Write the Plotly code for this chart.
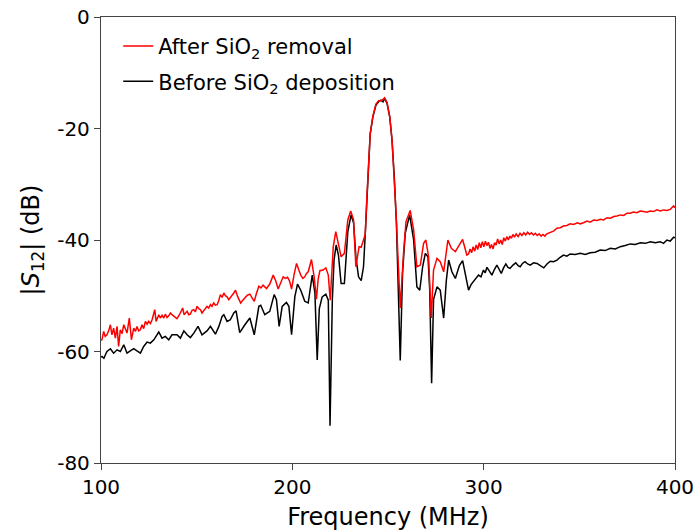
import plotly.graph_objects as go

# ---- data ----
freq_before = [100.0, 100.5, 101.5, 103.1, 104.9, 106.6, 108.4, 110.1, 111.9, 113.6, 115.3, 117.1, 118.8, 120.6,
               122.3, 124.1, 125.8, 127.6, 130.2, 131.9, 133.6, 135.4, 137.1, 139.7, 141.5, 143.3, 145.0, 146.7,
               148.5, 150.7, 152.8, 155.4, 157.2, 159.8, 161.6, 163.3, 164.2, 165.9, 167.6, 169.4, 170.6, 172.0,
               172.5, 175.2, 177.8, 180.1, 182.5, 183.5, 185.6, 188.2, 190.5, 191.7, 193.1, 194.7, 196.9, 198.2,
               199.6, 201.3, 202.7, 204.4, 206.5, 208.3, 210.4, 211.8, 213.0, 214.1, 215.6, 217.5, 218.8, 219.7,
               220.9, 221.8, 222.9, 224.1, 225.5, 227.2, 229.0, 230.7, 232.0, 233.2, 234.6, 236.0, 237.2, 238.1,
               239.0, 239.9, 240.7, 242.1, 243.7, 245.1, 246.3, 247.4, 248.2, 249.5, 250.9, 252.1, 253.3, 254.4,
               255.2, 256.4, 257.6, 259.0, 261.3, 263.4, 265.1, 266.6, 268.1, 269.5, 270.9, 271.8, 272.8, 273.8,
               275.6, 277.3, 279.1, 280.5, 281.7, 283.4, 285.2, 287.3, 289.0, 290.7, 292.1, 293.4, 294.7, 296.0,
               297.3, 298.6, 299.9, 300.8, 301.7, 303.0, 304.3, 305.6, 306.9, 308.0, 309.2, 310.4, 311.6, 312.7,
               313.8, 315.3, 316.8, 318.0, 319.1, 320.3, 321.6, 323.0, 324.3, 326.1, 327.9, 329.6, 331.4, 333.1,
               334.8, 336.5, 338.3, 340.0, 341.7, 343.5, 345.2, 347.8, 350.5, 353.1, 355.7, 358.3, 360.9, 363.5,
               366.2, 368.8, 371.4, 374.0, 376.6, 379.2, 381.9, 384.5, 387.1, 389.7, 392.3, 394.0, 395.8, 397.5,
               399.3, 400.0]
db_before = [-61.0, -60.9, -61.2, -60.0, -59.5, -60.3, -59.7, -60.0, -58.8, -60.3, -59.9, -59.5, -59.9, -60.3,
             -59.1, -58.3, -58.5, -57.9, -56.5, -57.6, -57.3, -57.9, -57.0, -57.0, -57.6, -56.3, -57.0, -57.5,
             -56.7, -55.5, -57.0, -56.3, -55.5, -56.9, -55.5, -53.7, -53.4, -54.6, -54.3, -53.1, -52.7, -56.0,
             -56.6, -55.2, -54.0, -57.0, -51.9, -51.7, -53.4, -52.8, -49.8, -50.7, -55.5, -51.9, -51.2, -51.9,
             -57.0, -50.2, -47.9, -49.0, -51.0, -51.3, -46.3, -49.5, -61.5, -52.3, -50.2, -49.7, -50.8, -73.3,
             -50.8, -43.6, -40.9, -42.7, -47.8, -47.8, -38.5, -35.5, -36.9, -43.0, -46.6, -47.3, -44.8, -39.0,
             -32.0, -25.0, -20.9, -17.9, -15.8, -15.2, -14.9, -15.2, -14.6, -15.5, -17.9, -22.1, -28.7, -37.0,
             -46.0, -61.6, -46.0, -38.8, -35.5, -40.0, -48.4, -49.0, -44.8, -42.4, -43.0, -49.0, -65.7, -50.7,
             -48.4, -49.0, -54.0, -47.2, -43.6, -45.7, -46.9, -44.6, -43.7, -46.6, -49.0, -48.0, -47.5, -47.0,
             -46.3, -46.6, -45.4, -45.9, -44.9, -45.6, -46.3, -45.3, -44.5, -45.2, -46.0, -45.0, -44.3, -44.9,
             -45.1, -44.5, -44.1, -44.6, -44.8, -44.2, -43.9, -44.3, -44.5, -44.1, -44.2, -44.6, -45.0, -44.3,
             -43.8, -43.9, -43.6, -43.1, -42.7, -42.9, -42.5, -42.6, -42.4, -42.6, -42.3, -42.2, -41.8, -41.9,
             -41.5, -41.6, -41.2, -41.0, -40.7, -40.8, -40.5, -40.6, -40.3, -40.5, -40.3, -40.6, -40.0, -40.2,
             -39.5, -39.6]

freq_after = [100.0, 100.5, 101.4, 102.2, 103.1, 104.0, 104.9, 105.7, 106.6, 107.5, 108.4, 109.2, 110.1, 111.0,
              111.9, 112.7, 113.6, 114.8, 115.9, 117.1, 118.0, 118.8, 119.7, 120.6, 121.4, 122.3, 123.2, 124.1,
              124.9, 125.8, 126.7, 128.1, 128.8, 130.2, 131.0, 131.9, 132.8, 133.6, 134.5, 135.4, 136.3, 137.1,
              138.4, 139.7, 141.0, 142.7, 143.4, 145.0, 145.9, 146.7, 147.6, 148.5, 149.3, 150.2, 151.1, 152.0,
              152.8, 154.1, 155.4, 156.3, 157.2, 158.0, 158.9, 159.8, 160.7, 161.5, 162.4, 163.3, 164.2, 165.0,
              165.9, 166.8, 167.6, 168.5, 169.4, 170.3, 171.5, 173.0, 174.1, 175.2, 176.5, 177.8, 179.0, 180.1,
              181.3, 182.5, 183.6, 184.7, 186.5, 188.2, 190.0, 191.3, 192.6, 193.9, 195.2, 196.4, 197.5, 198.6,
              199.6, 200.9, 202.2, 203.3, 204.4, 205.5, 206.5, 207.4, 208.3, 210.0, 211.4, 212.6, 213.5, 214.4,
              216.0, 217.5, 218.8, 219.8, 221.4, 222.7, 224.1, 225.5, 227.2, 229.0, 230.5, 232.0, 233.2, 234.9,
              236.0, 237.2, 238.1, 239.0, 239.9, 240.7, 242.1, 243.7, 245.1, 246.3, 247.4, 248.2, 249.5, 250.9,
              252.1, 253.3, 254.4, 255.2, 256.4, 258.1, 259.4, 261.6, 263.4, 265.1, 266.9, 268.6, 269.8, 271.2,
              272.6, 273.8, 275.6, 277.3, 279.1, 281.3, 283.1, 285.2, 287.0, 289.0, 291.2, 292.1, 292.9, 293.7,
              294.5, 295.3, 296.1, 296.9, 297.7, 298.5, 299.3, 300.1, 300.9, 301.7, 302.5, 303.3, 304.1, 304.9,
              305.7, 306.5, 307.3, 308.1, 308.9, 309.7, 310.5, 311.3, 312.1, 312.9, 313.7, 314.5, 315.3, 316.1,
              317.0, 318.0, 319.0, 320.0, 321.0, 322.0, 323.0, 324.0, 325.0, 326.0, 327.0, 328.0, 329.0, 330.0,
              331.0, 332.0, 333.0, 334.8, 336.5, 338.3, 340.0, 341.7, 343.5, 345.2, 347.0, 349.0, 350.5, 352.2,
              354.0, 355.7, 357.5, 359.2, 361.0, 362.7, 364.5, 366.2, 368.0, 369.7, 371.4, 373.2, 374.9, 376.6,
              378.3, 380.1, 381.8, 383.6, 385.3, 387.0, 388.8, 390.5, 392.3, 394.1, 395.8, 397.5, 399.3, 400.0]
db_after = [-58.0, -57.9, -56.4, -57.3, -57.0, -56.3, -55.2, -57.0, -55.8, -57.6, -55.5, -59.1, -56.1, -56.8,
            -55.2, -56.1, -56.7, -54.0, -57.9, -55.8, -56.4, -55.5, -56.3, -56.1, -55.2, -55.9, -54.6, -55.1,
            -54.6, -55.0, -54.3, -52.5, -54.6, -53.4, -54.0, -53.5, -54.0, -53.3, -53.9, -53.6, -53.1, -53.4,
            -53.8, -54.1, -53.4, -52.2, -53.4, -52.8, -53.4, -53.3, -52.6, -52.5, -52.9, -51.9, -52.3, -52.5,
            -53.1, -52.4, -51.9, -52.2, -51.6, -51.9, -51.3, -51.7, -51.6, -50.9, -49.8, -50.3, -49.5, -50.0,
            -50.2, -50.7, -50.4, -49.9, -49.5, -49.0, -50.2, -51.3, -50.8, -50.4, -49.9, -49.7, -50.3, -51.0,
            -49.5, -48.3, -48.6, -48.1, -48.7, -47.9, -46.3, -47.3, -48.8, -47.7, -46.6, -46.9, -46.7, -47.4,
            -48.8, -46.2, -44.2, -45.3, -46.3, -46.9, -46.6, -46.0, -45.7, -43.5, -46.6, -50.6, -47.0, -45.5,
            -45.4, -45.0, -46.3, -50.8, -41.2, -38.5, -40.6, -43.0, -42.4, -36.4, -34.8, -36.4, -44.8, -41.2,
            -41.3, -40.0, -39.0, -32.0, -25.2, -21.0, -17.8, -15.6, -15.0, -15.0, -14.8, -14.5, -15.3, -17.8,
            -22.0, -28.5, -36.5, -43.0, -52.2, -42.4, -36.7, -34.7, -38.2, -44.8, -44.5, -40.6, -40.0, -43.0,
            -54.0, -45.4, -43.3, -43.9, -45.7, -40.0, -41.5, -42.1, -41.0, -39.9, -42.7, -42.5, -41.6, -42.3,
            -41.2, -42.0, -40.9, -41.7, -40.5, -41.4, -40.3, -41.2, -40.2, -41.0, -40.4, -41.5, -40.8, -41.6,
            -40.5, -40.9, -39.8, -40.7, -40.0, -40.8, -39.6, -40.2, -39.4, -40.0, -39.3, -39.7, -39.0, -39.5,
            -38.9, -39.4, -38.8, -39.2, -38.7, -39.1, -38.6, -39.0, -38.7, -39.1, -38.8, -39.2, -38.9, -39.3,
            -39.0, -39.3, -38.9, -38.7, -38.4, -37.9, -37.8, -37.5, -37.4, -37.1, -37.2, -36.9, -37.1, -36.9,
            -36.6, -36.8, -36.4, -36.5, -36.3, -36.4, -36.0, -36.1, -35.8, -35.7, -35.5, -35.6, -35.2, -35.2,
            -35.0, -35.1, -34.8, -34.9, -35.0, -34.8, -34.9, -34.6, -34.8, -34.6, -34.7, -34.5, -33.9, -34.2]

x_ticks = [100, 200, 300, 400]
y_ticks = [0, -20, -40, -60, -80]
y_tick_text = ["0", "-20", "-40", "-60", "-80"]

label_after = "After SiO<sub>2</sub> removal"
label_before = "Before SiO<sub>2</sub> deposition"

fig = go.Figure()
fig.add_trace(go.Scatter(x=freq_before, y=db_before, mode="lines", name=label_before,
                         legendgroup="b", legendrank=2,
                         line=dict(color="#000000", width=1.5)))
fig.add_trace(go.Scatter(x=freq_after, y=db_after, mode="lines", name=label_after,
                         legendgroup="a", legendrank=1,
                         line=dict(color="#ff0000", width=1.5)))

axis_common = dict(showline=True, mirror=True, linecolor="#444444", linewidth=1.3,
                   ticks="outside", ticklen=6, tickwidth=1.2, tickcolor="#444444",
                   showgrid=False, zeroline=False, ticklabeloverflow="allow",
                   tickfont=dict(family="DejaVu Sans", size=20, color="#000000"))

fig.update_layout(
    width=693, height=531,
    margin=dict(l=101, r=18, t=17, b=68, autoexpand=False),
    paper_bgcolor="white", plot_bgcolor="white",
    font=dict(family="DejaVu Sans", color="#000000"),
    xaxis=dict(range=[100, 400], tickvals=x_ticks,
               title=dict(text="Frequency (MHz)", font=dict(size=24), standoff=10),
               **axis_common),
    yaxis=dict(range=[-80, 0], tickvals=y_ticks, ticktext=y_tick_text,
               title=dict(text="|<i>S</i><sub>12</sub>| (dB)", font=dict(size=24), standoff=10),
               **axis_common),
    legend=dict(x=0.03, y=0.98, xanchor="left", yanchor="top", tracegroupgap=5,
                bgcolor="rgba(255,255,255,0)", borderwidth=0,
                font=dict(family="DejaVu Sans", size=21, color="#000000")),
    showlegend=True,
)

fig.write_html("out.html")
